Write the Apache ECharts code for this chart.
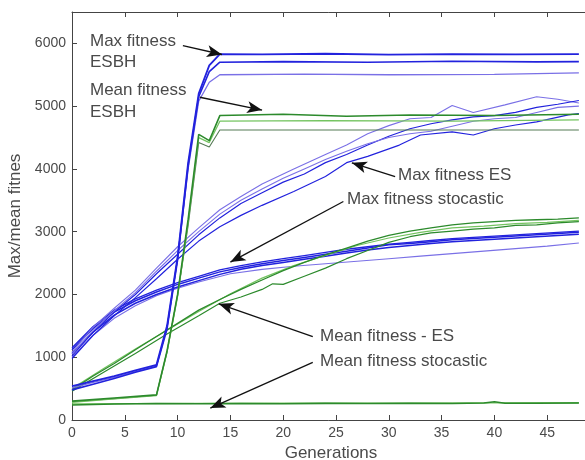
<!DOCTYPE html>
<html>
<head>
<meta charset="utf-8">
<script src="https://cdn.jsdelivr.net/npm/echarts@6/dist/echarts.min.js"></script>
<style>
  html, body { margin: 0; padding: 0; background: #fff; }
  #chart { width: 585px; height: 460px; }
</style>
</head>
<body>
<div id="chart"></div>
<script>
// [generation, fitness]
const maxEsbhA = [[0,540],[2,620],[4,700],[6,790],[8,880],[9,1500],[10,2600],[11,4100],[12,5200],[13,5650],[14,5830],[18,5825],[24,5835],[30,5820],[36,5830],[42,5825],[48,5830]];
const maxEsbhB = [[0,480],[2,570],[4,660],[6,760],[8,850],[9,1450],[10,2550],[11,4050],[12,5150],[13,5550],[14,5700],[20,5710],[28,5700],[36,5715],[44,5705],[48,5710]];
const maxEsbhC = [[0,510],[2,600],[4,680],[6,770],[8,860],[9,1480],[10,2580],[11,4000],[12,5080],[13,5380],[14,5500],[22,5510],[30,5500],[40,5505],[48,5530]];

const meanEsbhA = [[0,300],[4,350],[8,400],[9,1100],[10,2000],[11,3200],[12,4550],[13,4450],[14,4850],[20,4870],[26,4840],[32,4860],[40,4850],[48,4870]];
const meanEsbhB = [[0,280],[4,335],[8,390],[9,1080],[10,1970],[11,3150],[12,4500],[13,4420],[14,4760],[24,4770],[36,4760],[48,4780]];
const meanEsbhC = [[0,290],[4,340],[8,395],[9,1090],[10,1990],[11,3100],[12,4420],[13,4350],[14,4620],[30,4620],[48,4620]];

const maxEsA = [[0,1080],[2,1480],[4,1780],[6,2070],[8,2420],[10,2760],[12,3060],[14,3350],[16,3560],[18,3760],[21,4000],[24,4230],[26,4380],[28,4560],[30,4690],[32,4800],[34,4820],[36,5010],[38,4900],[41,5020],[44,5150],[46,5110],[48,5050]];
const maxEsB = [[0,1020],[2,1400],[4,1720],[6,2000],[8,2330],[10,2640],[12,2950],[14,3220],[16,3450],[18,3620],[20,3790],[22,3920],[24,4100],[26,4230],[28,4380],[30,4520],[32,4640],[34,4720],[36,4780],[38,4830],[40,4850],[42,4900],[44,4980],[46,5030],[48,5090]];
const maxEsC = [[0,980],[2,1350],[4,1660],[6,1950],[8,2250],[10,2560],[12,2850],[14,3080],[16,3260],[18,3420],[21,3640],[24,3880],[26,4100],[28,4200],[31,4380],[33,4540],[36,4590],[38,4540],[40,4640],[42,4700],[44,4750],[47,4860],[48,4880]];
const maxEsD = [[0,1050],[2,1430],[4,1740],[6,2030],[8,2370],[10,2700],[12,3000],[14,3280],[16,3500],[18,3680],[20,3850],[22,4000],[24,4150],[26,4280],[28,4400],[30,4500],[32,4560],[34,4600],[36,4680],[38,4760],[40,4800],[42,4820],[44,4900],[46,4980],[48,5000]];

const maxStoA = [[0,1120],[2,1460],[4,1720],[6,1900],[8,2040],[10,2160],[12,2260],[14,2360],[16,2430],[18,2490],[20,2540],[22,2590],[24,2640],[26,2690],[28,2740],[30,2790],[32,2810],[34,2840],[36,2870],[38,2890],[40,2910],[42,2930],[44,2950],[46,2970],[48,2990]];
const maxStoB = [[0,1060],[2,1400],[4,1670],[6,1860],[8,2000],[10,2120],[12,2220],[14,2320],[16,2400],[18,2460],[20,2510],[22,2560],[24,2610],[26,2660],[28,2710],[30,2750],[32,2780],[34,2810],[36,2840],[38,2860],[40,2880],[42,2900],[44,2920],[46,2940],[48,2960]];
const maxStoC = [[0,1150],[2,1490],[4,1750],[6,1930],[8,2070],[10,2190],[12,2290],[14,2390],[16,2460],[18,2520],[20,2570],[22,2620],[24,2670],[26,2720],[28,2760],[30,2800],[32,2830],[34,2860],[36,2890],[38,2910],[40,2930],[42,2950],[44,2970],[46,2990],[48,3010]];
const maxStoD = [[0,1000],[2,1350],[4,1620],[6,1820],[8,1980],[10,2100],[12,2200],[15,2330],[18,2400],[21,2450],[24,2490],[27,2530],[30,2570],[33,2610],[36,2650],[39,2690],[42,2730],[45,2770],[48,2820]];

const meanEsA = [[0,480],[2,700],[4,900],[6,1120],[8,1330],[10,1540],[12,1750],[14,1920],[16,2080],[18,2230],[20,2380],[22,2510],[24,2630],[26,2740],[28,2850],[30,2940],[32,3010],[34,3060],[36,3110],[38,3140],[40,3160],[42,3180],[44,3190],[46,3200],[48,3220]];
const meanEsB = [[0,460],[3,760],[6,1060],[9,1370],[12,1660],[14,1860],[16,1960],[18,2080],[19,2170],[20,2160],[22,2290],[24,2420],[26,2570],[28,2700],[30,2830],[32,2920],[34,2980],[36,3010],[38,3040],[40,3060],[42,3100],[44,3110],[46,3140],[48,3160]];
const meanEsC = [[0,500],[3,820],[6,1130],[9,1430],[12,1730],[15,2010],[18,2260],[21,2460],[24,2620],[27,2780],[30,2900],[33,2990],[36,3060],[39,3090],[42,3130],[45,3150],[48,3180]];

const meanStoA = [[0,240],[4,255],[8,262],[12,258],[16,262],[20,260],[24,265],[28,262],[32,266],[36,264],[39,270],[40,290],[41,268],[44,266],[48,270]];
const meanStoB = [[0,255],[6,262],[12,265],[20,268],[30,270],[40,272],[48,275]];

const xTicks = [0, 5, 10, 15, 20, 25, 30, 35, 40, 45];
const yTicks = [0, 1000, 2000, 3000, 4000, 5000, 6000];

const notes = ['Max fitness', 'ESBH', 'Mean fitness', 'ESBH', 'Max fitness ES', 'Max fitness stocastic', 'Mean fitness - ES', 'Mean fitness stocastic'];

const BLUE = '#2222dd', VIOLET = '#7a70e6', GREEN = '#2c8a2c', LGREEN = '#74c460', GGREEN = '#557a55';

function line(data, color, width) {
    return {
        type: 'line',
        data: data,
        showSymbol: false,
        symbol: 'none',
        silent: true,
        lineStyle: { color: color, width: width || 1.3 },
        z: 2
    };
}

let series = [
    line(maxStoD, VIOLET, 1.1),
    line(maxStoB, BLUE, 1.5),
    line(maxStoA, BLUE, 1.5),
    line(maxStoC, BLUE, 1.3),
    line(meanEsC, LGREEN, 1.2),
    line(meanEsB, GREEN, 1.2),
    line(meanEsA, GREEN, 1.3),
    line(maxEsA, VIOLET, 1.1),
    line(maxEsB, BLUE, 1.2),
    line(maxEsC, BLUE, 1.2),
    line(maxEsD, VIOLET, 1.1),
    line(meanEsbhC, GGREEN, 1.1),
    line(meanEsbhB, LGREEN, 1.3),
    line(meanEsbhA, GREEN, 1.6),
    line(maxEsbhC, VIOLET, 1.3),
    line(maxEsbhB, BLUE, 1.6),
    line(maxEsbhA, BLUE, 1.8),
    line(meanStoB, LGREEN, 1.3),
    line(meanStoA, GREEN, 1.6)
];

// arrows, in data coordinates
series[series.length - 1].markLine = {
    silent: true,
    animation: false,
    symbol: ['none', 'arrow'],
    symbolSize: [9, 15],
    label: { show: false },
    lineStyle: { color: '#111', width: 1.3, type: 'solid' },
    data: [
        [{ coord: [10.5, 5965] }, { coord: [14.2, 5823] }],
        [{ coord: [12.1, 5142] }, { coord: [18.0, 4937] }],
        [{ coord: [30.6, 3877] }, { coord: [26.5, 4098] }],
        [{ coord: [25.7, 3481] }, { coord: [15.0, 2516] }],
        [{ coord: [22.8, 1329] }, { coord: [13.9, 1851] }],
        [{ coord: [22.8, 918] }, { coord: [13.1, 190] }]
    ]
};

const noteStyle = { fill: '#4a4a4a', fontFamily: 'Liberation Sans, Arial', fontSize: 17 };
const notePos = [[90, 43], [90, 64], [90, 92], [90, 114], [398, 177], [347, 201], [320, 338], [320, 363]];

let myChart = echarts.init(document.getElementById('chart'));

let axisColor = '#444';
let option = {
    animation: false,
    backgroundColor: '#fff',
    grid: { left: 72, top: 12, width: 528, height: 408, outerBoundsMode: 'none', containLabel: false },
    xAxis: [{
        type: 'value',
        min: 0, max: 50, interval: 5,
        name: 'Generations',
        nameLocation: 'middle',
        nameGap: 24,
        nameTextStyle: { color: '#4a4a4a', fontSize: 17, fontFamily: 'Liberation Sans, Arial', padding: [0, 10, 0, 0] },
        axisLine: { show: true, onZero: false, lineStyle: { color: axisColor, width: 1 } },
        axisTick: { show: true, inside: true, length: 5, lineStyle: { color: axisColor } },
        axisLabel: {
            color: '#4a4a4a', fontSize: 14, fontFamily: 'Liberation Sans, Arial', margin: 6,
            formatter: v => xTicks.indexOf(v) >= 0 ? String(v) : ''
        },
        splitLine: { show: false }
    }, {
        type: 'value',
        position: 'top',
        min: 0, max: 50, interval: 5,
        axisLine: { show: true, onZero: false, lineStyle: { color: axisColor, width: 1 } },
        axisTick: { show: true, inside: true, length: 5, lineStyle: { color: axisColor } },
        axisLabel: { show: false },
        splitLine: { show: false }
    }],
    yAxis: [{
        type: 'value',
        min: 0, max: 6500, interval: 1000,
        name: 'Max/mean fitnes',
        nameLocation: 'middle',
        nameGap: 43,
        nameTextStyle: { color: '#4a4a4a', fontSize: 17, fontFamily: 'Liberation Sans, Arial' },
        axisLine: { show: true, onZero: false, lineStyle: { color: axisColor, width: 1 } },
        axisTick: { show: true, inside: true, length: 5, lineStyle: { color: axisColor } },
        axisLabel: {
            color: '#4a4a4a', fontSize: 14, fontFamily: 'Liberation Sans, Arial', margin: 6,
            showMaxLabel: false,
            formatter: v => yTicks.indexOf(v) >= 0 ? String(v) : ''
        },
        splitLine: { show: false }
    }],
    series: series,
    graphic: notes.map((t, i) => ({
        type: 'text',
        left: notePos[i][0],
        top: notePos[i][1] - 10,
        silent: true,
        z: 10,
        style: Object.assign({ text: t }, noteStyle)
    }))
};

myChart.setOption(option);
</script>
</body>
</html>
